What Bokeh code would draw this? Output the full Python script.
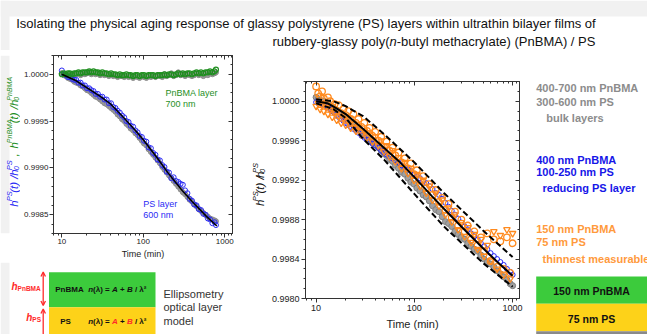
import math
from bokeh.plotting import figure
from bokeh.models import (Range1d, FixedTicker, PrintfTickFormatter, LinearAxis, LogAxis,
                          Label, Arrow, OpenHead)
from bokeh.layouts import column, row
from bokeh.embed import file_html
from bokeh.resources import INLINE

FONT = "Liberation Sans"

# ---------------- data: left panel (600 nm PS / 700 nm PnBMA) ----------------
t_left = [10, 10.6, 11.2, 11.9, 12.6, 13.4, 14.2, 15, 16, 17,
          18, 19.2, 20.4, 21.7, 23, 24.5, 26, 27.7, 29.5, 31.4,
          33.4, 35.5, 37.8, 40.2, 42.8, 45.5, 48.4, 51.5, 54.8, 58.3,
          62, 66, 70, 75, 80, 85, 90, 96, 102, 109,
          116, 124, 132, 141, 150, 160, 171, 182, 194, 207,
          221, 236, 252, 269, 287, 306, 326, 348, 371, 396,
          422, 450, 480, 512, 546, 582, 620, 661, 705, 750,
          780]
ps_blue_left = [1.00004, 1.00000, 0.99999, 0.99997, 0.99997, 0.99995, 0.99994, 0.99994, 0.99991, 0.99991,
                0.99988, 0.99988, 0.99985, 0.99985, 0.99983, 0.99982, 0.99979, 0.99979, 0.99976, 0.99976,
                0.99973, 0.99973, 0.99969, 0.99969, 0.99965, 0.99964, 0.99961, 0.99959, 0.99956, 0.99954,
                0.99950, 0.99949, 0.99945, 0.99944, 0.99940, 0.99938, 0.99934, 0.99933, 0.99929, 0.99928,
                0.99922, 0.99921, 0.99916, 0.99914, 0.99909, 0.99908, 0.99903, 0.99901, 0.99896, 0.99895,
                0.99889, 0.99890, 0.99886, 0.99885, 0.99883, 0.99882, 0.99876, 0.99873, 0.99867, 0.99865,
                0.99861, 0.99860, 0.99856, 0.99855, 0.99851, 0.99850, 0.99846, 0.99845, 0.99841, 0.99842,
                0.99839]
ps_gray_left = [1.00001, 0.99999, 0.99998, 0.99996, 0.99995, 0.99994, 0.99992, 0.99991, 0.99990, 0.99988,
                0.99987, 0.99985, 0.99983, 0.99982, 0.99980, 0.99978, 0.99976, 0.99975, 0.99973, 0.99971,
                0.99969, 0.99968, 0.99966, 0.99964, 0.99962, 0.99960, 0.99957, 0.99955, 0.99952, 0.99950,
                0.99947, 0.99945, 0.99942, 0.99940, 0.99937, 0.99935, 0.99932, 0.99929, 0.99926, 0.99924,
                0.99920, 0.99917, 0.99914, 0.99911, 0.99908, 0.99905, 0.99901, 0.99898, 0.99895, 0.99892,
                0.99889, 0.99886, 0.99883, 0.99880, 0.99877, 0.99874, 0.99872, 0.99869, 0.99866, 0.99864,
                0.99861, 0.99859, 0.99856, 0.99854, 0.99852, 0.99850, 0.99848, 0.99846, 0.99845, 0.99844,
                0.99843]
pnbma_green_left = [1.00000, 1.00001, 1.00000, 1.00001, 1.00001, 1.00000, 1.00001, 1.00001, 1.00002, 1.00001,
                    1.00002, 1.00002, 1.00002, 1.00003, 1.00002, 1.00003, 1.00002, 1.00002, 1.00001, 1.00002,
                    1.00001, 1.00001, 1.00000, 1.00001, 1.00000, 1.00000, 0.99999, 1.00000, 0.99999, 0.99999,
                    1.00000, 0.99999, 0.99999, 0.99998, 0.99999, 0.99999, 0.99998, 0.99999, 0.99999, 0.99998,
                    0.99999, 0.99999, 0.99999, 0.99998, 0.99999, 0.99999, 0.99999, 1.00000, 0.99999, 1.00000,
                    1.00000, 0.99999, 1.00000, 1.00001, 1.00000, 1.00001, 1.00000, 1.00001, 1.00001, 1.00000,
                    1.00001, 1.00002, 1.00001, 1.00002, 1.00001, 1.00002, 1.00002, 1.00003, 1.00002, 1.00003,
                    1.00005]
pnbma_gray_left = [1.00001, 0.99999, 1.00000, 0.99999, 1.00000, 0.99999, 1.00000, 1.00000, 1.00001, 0.99999,
                   1.00001, 1.00000, 1.00001, 1.00002, 1.00000, 1.00001, 1.00000, 1.00001, 0.99999, 1.00000,
                   0.99999, 1.00000, 0.99998, 0.99999, 0.99998, 0.99999, 0.99997, 0.99998, 0.99998, 0.99997,
                   0.99998, 0.99997, 0.99998, 0.99996, 0.99998, 0.99997, 0.99996, 0.99998, 0.99997, 0.99996,
                   0.99998, 0.99997, 0.99998, 0.99997, 0.99999, 0.99998, 0.99997, 1.00000, 0.99998, 0.99999,
                   1.00001, 0.99998, 0.99999, 1.00002, 0.99999, 1.00000, 0.99998, 1.00000, 0.99999, 0.99998,
                   0.99999, 1.00001, 0.99999, 1.00000, 0.99998, 1.00001, 0.99999, 1.00001, 1.00000, 1.00001,
                   1.00002]
fit_left_t = [10, 15, 20, 30, 40, 60, 80, 100, 150, 200, 300, 400, 600, 800]
fit_left_y = [1.00000, 0.99993, 0.99986, 0.99976, 0.99968, 0.99952, 0.99940, 0.99930,
              0.99910, 0.99895, 0.99876, 0.99864, 0.99848, 0.99838]

# ---------------- data: right panel (PS layer in bilayers) ----------------
t_right = [10, 10.5, 11, 11.5, 12, 12.6, 13.2, 13.9, 14.6, 15.4,
           16.2, 17, 18, 19, 20, 21.2, 22.5, 24, 25.5, 27,
           29, 31, 33, 35, 37.5, 40, 43, 46, 49, 52,
           56, 60, 64, 69, 74, 80, 86, 92, 99, 106,
           114, 123, 132, 142, 153, 165, 178, 192, 207, 223,
           240, 259, 279, 301, 325, 350, 378, 408, 440, 475,
           512, 553, 597, 644, 695, 750, 810, 875, 945, 1000]
bulk_gray = [1.00004, 1.00002, 1.00001, 0.99999, 1.00000, 0.99998, 0.99997, 0.99995, 0.99994, 0.99992,
             0.99991, 0.99989, 0.99987, 0.99985, 0.99983, 0.99981, 0.99978, 0.99976, 0.99974, 0.99971,
             0.99968, 0.99965, 0.99963, 0.99961, 0.99958, 0.99956, 0.99953, 0.99950, 0.99947, 0.99945,
             0.99941, 0.99939, 0.99935, 0.99932, 0.99928, 0.99926, 0.99922, 0.99918, 0.99916, 0.99912,
             0.99909, 0.99905, 0.99903, 0.99899, 0.99894, 0.99890, 0.99888, 0.99883, 0.99878, 0.99876,
             0.99873, 0.99868, 0.99865, 0.99862, 0.99860, 0.99856, 0.99853, 0.99850, 0.99848, 0.99844,
             0.99840, 0.99837, 0.99835, 0.99832, 0.99828, 0.99825, 0.99822, 0.99819, 0.99815, 0.99813]
reducing_blue = [0.99999, 0.99998, 0.99998, 0.99997, 0.99996, 0.99995, 0.99994, 0.99992, 0.99990, 0.99988,
                 0.99986, 0.99984, 0.99982, 0.99980, 0.99978, 0.99976, 0.99974, 0.99972, 0.99970, 0.99968,
                 0.99965, 0.99963, 0.99961, 0.99959, 0.99957, 0.99955, 0.99953, 0.99950, 0.99948, 0.99946,
                 0.99944, 0.99942, 0.99940, 0.99938, 0.99935, 0.99933, 0.99931, 0.99929, 0.99926, 0.99924,
                 0.99922, 0.99919, 0.99917, 0.99914, 0.99911, 0.99907, 0.99905, 0.99901, 0.99897, 0.99893,
                 0.99889, 0.99885, 0.99881, 0.99877, 0.99873, 0.99870, 0.99866, 0.99863, 0.99860, 0.99856,
                 0.99853, 0.99850, 0.99846, 0.99843, 0.99840, 0.99837, 0.99834, 0.99830, 0.99827, 0.99824]
thin_circles = [1.00015, 1.00008, 1.00005, 1.00010, 1.00003, 0.99998, 1.00004, 1.00000, 0.99994, 0.99997,
                0.99990, 0.99996, 0.99988, 0.99992, 0.99986, 0.99990, 0.99982, 0.99987, 0.99978, 0.99982,
                0.99974, 0.99978, 0.99970, 0.99973, 0.99965, 0.99969, 0.99960, 0.99964, 0.99954, 0.99959,
                0.99950, 0.99953, 0.99945, 0.99948, 0.99938, 0.99942, 0.99932, 0.99937, 0.99926, 0.99930,
                0.99920, 0.99924, 0.99912, 0.99916, 0.99905, 0.99910, 0.99898, 0.99902, 0.99890, 0.99896,
                0.99882, 0.99888, 0.99874, 0.99880, 0.99868, 0.99874, 0.99860, 0.99868, 0.99854, 0.99862,
                0.99848, 0.99866, 0.99838, 0.99860, 0.99832, 0.99858, 0.99830, 0.99862, 0.99826, 0.99856]
thin_triangles = [0.99995, 0.99998, 0.99992, 0.99996, 0.99990, 0.99994, 0.99987, 0.99991, 0.99984, 0.99988,
                  0.99981, 0.99985, 0.99978, 0.99983, 0.99976, 0.99980, 0.99973, 0.99977, 0.99970, 0.99974,
                  0.99966, 0.99970, 0.99963, 0.99968, 0.99959, 0.99964, 0.99955, 0.99960, 0.99949, 0.99955,
                  0.99944, 0.99950, 0.99939, 0.99943, 0.99932, 0.99938, 0.99927, 0.99932, 0.99920, 0.99926,
                  0.99914, 0.99920, 0.99907, 0.99914, 0.99900, 0.99907, 0.99894, 0.99900, 0.99885, 0.99892,
                  0.99878, 0.99885, 0.99870, 0.99877, 0.99863, 0.99872, 0.99857, 0.99865, 0.99850, 0.99860,
                  0.99843, 0.99854, 0.99838, 0.99868, 0.99830, 0.99864, 0.99824, 0.99870, 0.99820, 0.99866]
fit_right_t = [10, 13, 16, 20, 30, 50, 70, 100, 150, 200, 300, 500, 700, 1000]
fit_right_y = [1.00000, 0.99998, 0.99993, 0.99987, 0.99972, 0.99952, 0.99939, 0.99923,
               0.99904, 0.99891, 0.99873, 0.99851, 0.99837, 0.99823]
band_t = [10, 15, 20, 30, 50, 100, 200, 500, 1000]
band_upper = [1.00002, 1.00000, 0.99995, 0.99985, 0.99966, 0.99938, 0.99907, 0.99869, 0.99842]
band_lower = [0.99998, 0.99992, 0.99983, 0.99962, 0.99940, 0.99906, 0.99873, 0.99836, 0.99812]

# tick values
x_major = [10, 100, 1000]
x_minor = [8, 9, 20, 30, 40, 50, 60, 70, 80, 90, 200, 300, 400, 500, 600, 700, 800, 900, 1100, 1200]
yl_major = [0.9985, 0.9990, 0.9995, 1.0000]
yl_minor = [0.9983, 0.9984, 0.9986, 0.9987, 0.9988, 0.9989, 0.9991, 0.9992, 0.9993, 0.9994,
            0.9996, 0.9997, 0.9998, 0.9999, 1.0001, 1.0002]
yr_major = [0.9980, 0.9984, 0.9988, 0.9992, 0.9996, 1.0000]
yr_minor = [0.9981, 0.9982, 0.9983, 0.9985, 0.9986, 0.9987, 0.9989, 0.9990, 0.9991,
            0.9993, 0.9994, 0.9995, 0.9997, 0.9998, 0.9999, 1.0001, 1.0002]

# colours
BLUE = "#2b2bf5"
GREEN = "#1f8f1f"
ORANGE = "#ff8a1e"
RED = "#ff2a2a"
BOX_GREEN = "#3ccb3c"
BOX_YELLOW = "#fdd219"
PAGE_GRAY = "#f1f1f1"

# ---------------- helpers ----------------
EM = {' ': 278, '(': 333, ')': 333, '/': 278, ',': 278, '=': 584, '+': 584, '-': 333, '0': 556,
      '²': 333, 'λ': 556, 'A': 667, 'B': 667, 'M': 833, 'P': 667, 'S': 667,
      'a': 556, 'b': 556, 'c': 500, 'd': 556, 'e': 556, 'f': 278, 'g': 556, 'h': 556, 'i': 222,
      'k': 500, 'l': 222, 'm': 833, 'n': 556, 'o': 556, 'p': 556, 'r': 333, 's': 500, 't': 278,
      'u': 556, 'v': 500, 'y': 500}
EM_BOLD = {'n': 611, 'h': 611, 't': 333, 'A': 722, 'B': 722, 'r': 389}


def text_width(s, size, bold=False):
    tot = 0
    for c in s:
        w = EM_BOLD.get(c) if bold and c in EM_BOLD else EM.get(c, 556)
        tot += w
    return tot / 1000.0 * size


def lab(p, x, y, text, size, color="#111111", style="normal", align="left", angle=0.0):
    p.add_layout(Label(x=x, y=y, text=text, text_font=FONT, text_font_size=f"{size}px",
                       text_color=color, text_font_style=style, text_align=align,
                       text_baseline="middle", angle=angle))


def hrich(p, x, y, pieces):
    """horizontal rich text in a y-down canvas; y is the middle line"""
    for text, size, style, color, rise, adv in pieces:
        bold = "bold" in style
        lead = text_width(text[:len(text) - len(text.lstrip())], size, bold)
        lab(p, x + lead, y - rise, text.strip(), size, color, style)
        if adv:
            x += text_width(text, size, bold)


def vrich(p, x, y, pieces):
    """text rotated 90 deg (reading upward) in a y-down canvas; x is the middle line"""
    for text, size, style, color, rise, adv in pieces:
        bold = "bold" in style
        lead = text_width(text[:len(text) - len(text.lstrip())], size, bold)
        lab(p, x - rise, y - lead, text.strip(), size, color, style, angle=math.pi / 2)
        if adv:
            y -= text_width(text, size, bold)


def canvas(w, h):
    p = figure(width=w, height=h, x_range=Range1d(0, w), y_range=Range1d(h, 0),
               x_axis_type=None, y_axis_type=None, toolbar_location=None,
               output_backend="svg", min_border=0)
    p.min_border_left = p.min_border_right = p.min_border_top = p.min_border_bottom = 0
    p.outline_line_color = None
    p.background_fill_color = "white"
    p.border_fill_color = "white"
    return p


def style_axis(ax, size, standoff):
    ax.major_label_text_font = FONT
    ax.major_label_text_font_size = size
    ax.major_label_text_color = "#222222"
    ax.axis_line_color = "#333333"
    ax.major_tick_line_color = "#333333"
    ax.minor_tick_line_color = "#333333"
    ax.major_tick_out = 4
    ax.major_tick_in = 0
    ax.minor_tick_out = 2
    ax.minor_tick_in = 0
    ax.major_label_standoff = standoff


def mirror_axis(ax):
    ax.major_label_text_font_size = "1px"
    ax.major_label_text_alpha = 0
    ax.major_label_standoff = 0
    ax.axis_label_standoff = 0
    ax.axis_line_color = "#333333"
    ax.major_tick_line_color = "#333333"
    ax.minor_tick_line_color = "#333333"
    ax.major_tick_out = 0
    ax.major_tick_in = 4
    ax.minor_tick_out = 0
    ax.minor_tick_in = 2


def make_plot(w, h, xr, yr, borders, ymaj, ymin, tick_size, lab_size, standoff, lab_standoff):
    p = figure(width=w, height=h, x_axis_type="log", x_range=Range1d(*xr), y_range=Range1d(*yr),
               toolbar_location=None, output_backend="svg",
               min_border_left=borders[0], min_border_right=borders[1],
               min_border_top=borders[2], min_border_bottom=borders[3])
    p.grid.visible = False
    p.outline_line_color = "#333333"
    p.background_fill_color = "white"
    p.border_fill_color = "white"
    xa = p.xaxis[0]
    ya = p.yaxis[0]
    xa.ticker = FixedTicker(ticks=x_major, minor_ticks=x_minor)
    ya.ticker = FixedTicker(ticks=ymaj, minor_ticks=ymin)
    xa.formatter = PrintfTickFormatter(format="%d")
    ya.formatter = PrintfTickFormatter(format="%.4f")
    style_axis(xa, tick_size, standoff)
    style_axis(ya, tick_size, standoff)
    xa.axis_label = "Time (min)"
    xa.axis_label_text_font = FONT
    xa.axis_label_text_font_size = lab_size
    xa.axis_label_text_font_style = "normal"
    xa.axis_label_text_color = "#222222"
    xa.axis_label_standoff = lab_standoff
    ra = LinearAxis(ticker=FixedTicker(ticks=ymaj, minor_ticks=ymin))
    mirror_axis(ra)
    p.add_layout(ra, "right")
    ta = LogAxis(ticker=FixedTicker(ticks=x_major, minor_ticks=x_minor))
    mirror_axis(ta)
    p.add_layout(ta, "above")
    return p


# ---------------- title ----------------
title = canvas(647, 50)
title.quad(left=[0], right=[647], top=[0], bottom=[16], fill_color=PAGE_GRAY, line_color=None)
title.quad(left=[0], right=[9], top=[0], bottom=[50], fill_color=PAGE_GRAY, line_color=None)
lab(title, 15.7, 22.5, "Isolating the physical aging response of glassy polystyrene (PS) layers "
    "within ultrathin bilayer films of", 13)
hrich(title, 272, 40.5, [
    ("rubbery-glassy poly(", 13, "normal", "#111111", 0, True),
    ("n", 13, "italic", "#111111", 0, True),
    ("-butyl methacrylate) (PnBMA) / PS", 13, "normal", "#111111", 0, True),
])

# ---------------- left plot y label ----------------
yl = canvas(20, 212)
yl.quad(left=[0], right=[9], top=[0], bottom=[212], fill_color=PAGE_GRAY, line_color=None)
vrich(yl, 13.3, 180, [
    ("h", 11.5, "italic", BLUE, 0, True),
    ("PS", 7.5, "italic", BLUE, 4.5, True),
    ("(t) / ", 11.5, "italic", BLUE, 0, True),
    ("h", 11.5, "italic", BLUE, 0, True),
    ("0", 7.5, "italic", BLUE, -2.5, False),
    ("PS", 7.5, "italic", BLUE, 4.5, True),
    ("  ,  ", 11.5, "italic", GREEN, 0, True),
    ("h", 11.5, "italic", GREEN, 0, True),
    ("PnBMA", 7, "italic", GREEN, 4.5, True),
    ("(t) / ", 11.5, "italic", GREEN, 0, True),
    ("h", 11.5, "italic", GREEN, 0, True),
    ("0", 7, "italic", GREEN, -2.5, False),
    ("PnBMA", 7, "italic", GREEN, 4.5, True),
])

# ---------------- left plot ----------------
pl = make_plot(230, 212, (7.9, 1245), (0.9983, 1.0002), (33, 18, 5, 29),
               yl_major, yl_minor, "8px", "9px", 1, 2)
pl.scatter(t_left, pnbma_gray_left, size=5, marker="circle", line_color="#8c8c8c",
           fill_color="#9a9a9a", line_width=1)
pl.scatter(t_left, ps_gray_left, size=5, marker="circle", line_color="#8c8c8c",
           fill_color="#9a9a9a", line_width=1)
pl.scatter(t_left, ps_blue_left, size=5, marker="circle", line_color=BLUE,
           fill_color=None, line_width=1)
pl.scatter(t_left, pnbma_green_left, size=5, marker="circle", line_color=GREEN,
           fill_color=None, line_width=1.2)
pl.line(fit_left_t, fit_left_y, line_color="black", line_width=1.5)
lab(pl, 187, 0.99980, "PnBMA layer", 9, GREEN)
lab(pl, 187, 0.99968, "700 nm", 9, GREEN)
lab(pl, 100, 0.99862, "PS layer", 9, BLUE)
lab(pl, 100, 0.99850, "600 nm", 9, BLUE)

# ---------------- ellipsometry diagram ----------------
dg = canvas(250, 72)
dg.quad(left=[0], right=[9], top=[0], bottom=[72], fill_color=PAGE_GRAY, line_color=None)
dg.quad(left=[48.5], right=[155], top=[9.7], bottom=[44.7], fill_color=BOX_GREEN, line_color=None)
dg.quad(left=[48.5], right=[155], top=[44.7], bottom=[72], fill_color=BOX_YELLOW, line_color=None)
lab(dg, 69, 27.3, "PnBMA", 8, "#111111", "bold", align="center")
lab(dg, 65, 59, "PS", 8, "#111111", "bold", align="center")
for ym, ca in ((27.3, "#111111"), (59, RED)):
    hrich(dg, 87.7, ym, [
        ("n", 8, "bold italic", "#111111", 0, True),
        ("(λ) = ", 8, "bold", "#111111", 0, True),
        ("A", 8, "bold italic", ca, 0, True),
        (" + ", 8, "bold", "#111111", 0, True),
        ("B", 8, "bold italic", ca, 0, True),
        (" / λ²", 8, "bold", "#111111", 0, True),
    ])
dg.add_layout(Arrow(x_start=42.7, y_start=9.5, x_end=42.7, y_end=43,
                    start=OpenHead(size=4.5, line_color=RED, line_width=1.3),
                    end=OpenHead(size=4.5, line_color=RED, line_width=1.3),
                    line_color=RED, line_width=1.3))
dg.add_layout(Arrow(x_start=42.7, y_start=46.5, x_end=42.7, y_end=80,
                    start=OpenHead(size=4.5, line_color=RED, line_width=1.3),
                    end=OpenHead(size=4.5, line_color=RED, line_width=1.3),
                    line_color=RED, line_width=1.3))
hrich(dg, 11, 24.4, [("h", 10, "bold italic", RED, 0, True), ("PnBMA", 6.5, "bold", RED, -2, True)])
hrich(dg, 25.7, 55.4, [("h", 10, "bold italic", RED, 0, True), ("PS", 6.5, "bold", RED, -2, True)])
lab(dg, 163, 31.3, "Ellipsometry", 11, "#333333")
lab(dg, 163, 44.7, "optical layer", 11, "#333333")
lab(dg, 163, 58, "model", 11, "#333333")

# ---------------- right plot y label ----------------
yr = canvas(18, 284)
vrich(yr, 9, 163, [
    ("h", 11.5, "italic", "#111111", 0, True),
    ("PS", 7.5, "italic", "#111111", 4.5, True),
    ("(t) / ", 11.5, "italic", "#111111", 0, True),
    ("h", 11.5, "italic", "#111111", 0, True),
    ("0", 7.5, "italic", "#111111", -2.5, False),
    ("PS", 7.5, "italic", "#111111", 4.5, True),
])

# ---------------- right plot ----------------
pr = make_plot(262, 284, (7.8, 1175), (0.9980, 1.0002), (34, 11, 31, 36),
               yr_major, yr_minor, "9px", "11px", 2, 4)
pr.scatter(t_right, bulk_gray, size=6, marker="circle", line_color="#7f7f7f",
           fill_color="#a0a0a0", line_width=1)
pr.scatter(t_right, reducing_blue, size=5, marker="circle", line_color=BLUE,
           fill_color=None, line_width=1)
pr.scatter(t_right, thin_circles, size=6.5, marker="circle", line_color=ORANGE,
           fill_color=None, line_width=1.3)
pr.scatter(t_right, thin_triangles, size=6.5, marker="inverted_triangle", line_color=ORANGE,
           fill_color=None, line_width=1.3)
pr.line(band_t, band_upper, line_color="black", line_width=2, line_dash="6 3")
pr.line(band_t, band_lower, line_color="black", line_width=2, line_dash="6 3")
pr.line(fit_right_t, fit_right_y, line_color="black", line_width=2)

# ---------------- right legend column ----------------
sd = canvas(117, 284)
GT, BT, OT = "#8c8c8c", "#1616e8", "#ff9a3c"
lab(sd, 5.7, 37.3, "400-700 nm PnBMA", 11, GT, "bold")
lab(sd, 5.7, 51, "300-600 nm PS", 11, GT, "bold")
lab(sd, 15.7, 67.7, "bulk layers", 11, GT, "bold")
lab(sd, 5.7, 109, "400 nm PnBMA", 11, BT, "bold")
lab(sd, 5.7, 121.5, "100-250 nm PS", 11, BT, "bold")
lab(sd, 12, 137.7, "reducing PS layer", 11, BT, "bold")
lab(sd, 5.7, 178.3, "150 nm PnBMA", 11, OT, "bold")
lab(sd, 5.7, 191.7, "75 nm PS", 11, OT, "bold")
lab(sd, 12, 208.3, "thinnest measurable", 11, OT, "bold")
sd.quad(left=[5.7], right=[117], top=[226], bottom=[253.3], fill_color=BOX_GREEN, line_color=None)
sd.quad(left=[5.7], right=[117], top=[253.3], bottom=[280.7], fill_color=BOX_YELLOW, line_color=None)
sd.quad(left=[5.7], right=[117], top=[280.7], bottom=[284], fill_color="#8a8a8a", line_color=None)
lab(sd, 61, 240, "150 nm PnBMA", 10.5, "#111111", "bold", align="center")
lab(sd, 61, 268.3, "75 nm PS", 10.5, "#111111", "bold", align="center")

layout = column(title, row(column(row(yl, pl), dg), row(yr, pr), sd))
open("out.html", "w").write(file_html(layout, INLINE))
